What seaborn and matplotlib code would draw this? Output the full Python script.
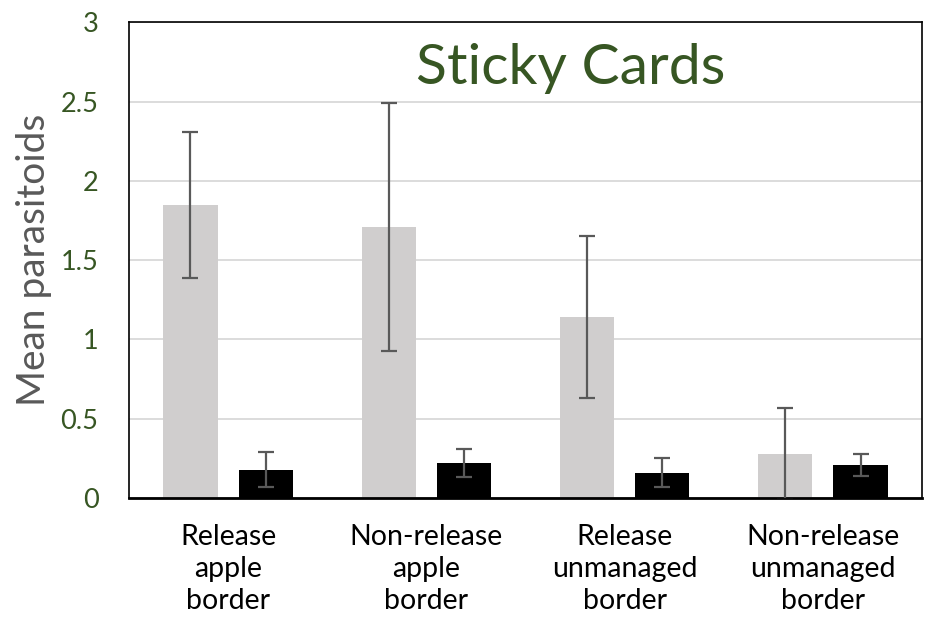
import matplotlib
matplotlib.use("Agg")
import matplotlib.pyplot as plt
import seaborn as sns
import pandas as pd
import numpy as np

# Site categories (x-axis)
categories = [
    "Release\napple\nborder",
    "Non-release\napple\nborder",
    "Release\nunmanaged\nborder",
    "Non-release\nunmanaged\nborder",
]
# Two series per site
series_names = ["Series 1", "Series 2"]
series1_mean = [1.85, 1.71, 1.14, 0.28]
series1_err = [0.46, 0.78, 0.51, 0.29]
series2_mean = [0.18, 0.22, 0.16, 0.21]
series2_err = [0.11, 0.09, 0.09, 0.07]

yticks = [0, 0.5, 1, 1.5, 2, 2.5, 3]
ytick_labels = ["0", "0.5", "1", "1.5", "2", "2.5", "3"]

df = pd.DataFrame({
    "site": categories * 2,
    "series": [series_names[0]] * 4 + [series_names[1]] * 4,
    "mean": series1_mean + series2_mean,
})

sns.set_theme(style="white")
plt.rcParams["font.family"] = ["Lato", "DejaVu Sans"]

fig = plt.figure(figsize=(9.28, 6.18), dpi=100)
ax = fig.add_axes([0.139, 0.194, 0.8545, 0.770])

palette = {series_names[0]: "#D0CECE", series_names[1]: "#000000"}
sns.barplot(data=df, x="site", y="mean", hue="series", order=categories,
            hue_order=series_names, palette=palette, errorbar=None,
            width=0.76, gap=0.28, saturation=1, legend=False, ax=ax,
            linewidth=0, zorder=2)

# Error bars centred on each bar
errs = [series1_err, series2_err]
for container, err in zip(ax.containers, errs):
    xs = [b.get_x() + b.get_width() / 2 for b in container]
    hs = [b.get_height() for b in container]
    ax.errorbar(xs, hs, yerr=err, fmt="none", ecolor="#595959",
                elinewidth=1.6, capsize=5.5, capthick=1.6, zorder=3,
                clip_on=True)

ax.set_ylim(0, 3)
ax.set_xlim(-0.5, 3.5)
ax.set_yticks(yticks)
ax.set_yticklabels(ytick_labels)
ax.yaxis.grid(True, color="#D9D9D9", linewidth=1.3, zorder=0)
ax.set_axisbelow(True)

ax.tick_params(axis="y", length=0, pad=22, labelsize=19.5, labelcolor="#375623")
ax.tick_params(axis="x", length=0, pad=19, labelsize=20.5, labelcolor="#000000")
for lbl in ax.get_xticklabels():
    lbl.set_linespacing(1.28)

for side in ["left", "right", "top"]:
    ax.spines[side].set_color("#000000")
    ax.spines[side].set_linewidth(1.2)
ax.spines["bottom"].set_color("#000000")
ax.spines["bottom"].set_linewidth(2.0)

ax.set_xlabel("")
ax.set_ylabel("Mean parasitoids", fontsize=28, color="#595959", labelpad=6)

ax.text(0.557, 0.870, "Sticky Cards", transform=ax.transAxes, ha="center",
        va="baseline", fontsize=41, color="#375623")

fig.savefig("out.png", dpi=100, facecolor="white")
